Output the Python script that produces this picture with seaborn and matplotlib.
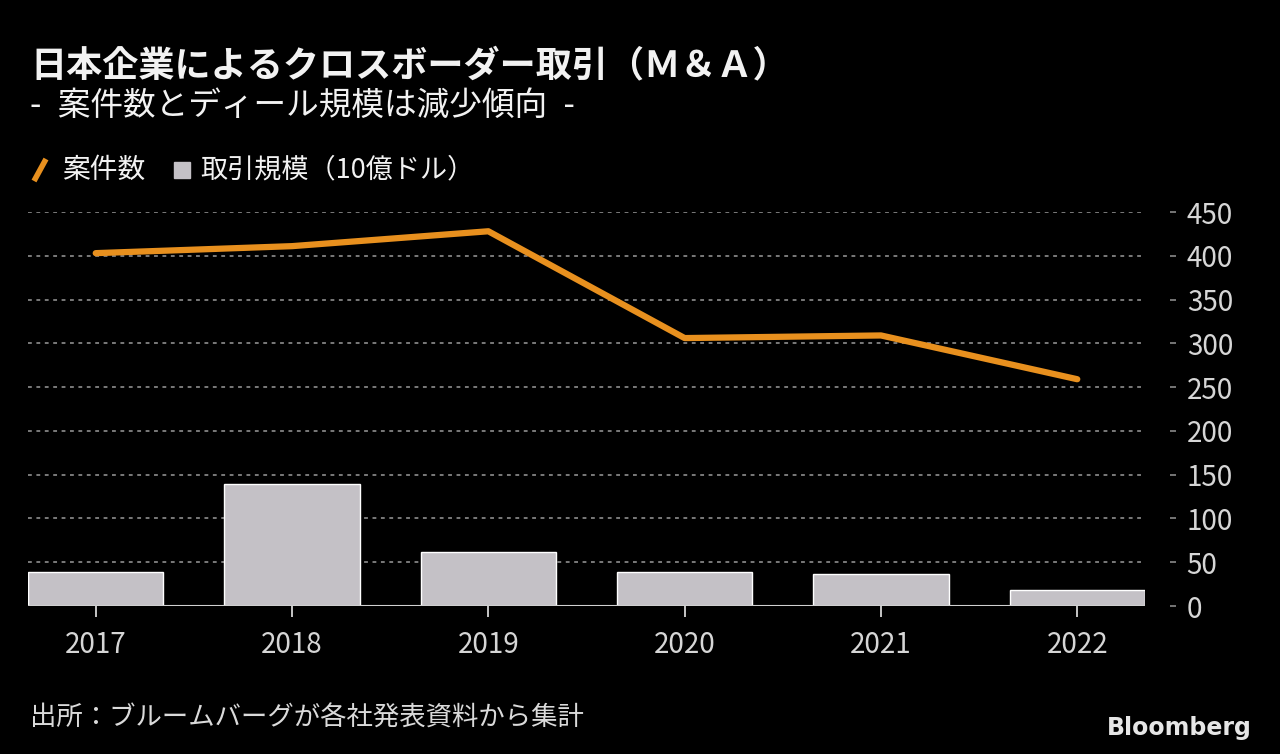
import numpy as np
import pandas as pd
import matplotlib
matplotlib.use("Agg")
import matplotlib.pyplot as plt
from matplotlib.lines import Line2D
from matplotlib.patches import Rectangle
import seaborn as sns

# ---- data ----
years = ["2017", "2018", "2019", "2020", "2021", "2022"]
deal_count = [403, 411, 428, 306, 309, 259]   # 案件数
deal_value = [39, 139, 62, 39, 37, 18]        # 取引規模（10億ドル）
y_ticks = [0, 50, 100, 150, 200, 250, 300, 350, 400, 450]

title = "日本企業によるクロスボーダー取引（Ｍ＆Ａ）"
subtitle = "-\u2002案件数とディール規模は減少傾向\u2002-"
legend_line = "案件数"
legend_bar = "取引規模（10億ドル）"
source = "出所：ブルームバーグが各社発表資料から集計"

# ---- style ----
bg = "#000000"
orange = "#E8901E"
bar_grey = "#C4C1C6"
text_col = "#F2F2F2"
tick_col = "#D6D6D6"

sns.set_theme(style="dark")
plt.rcParams["font.family"] = ["Noto Sans CJK JP", "DejaVu Sans"]

df = pd.DataFrame({"year": years, "pos": np.arange(len(years)),
                   "count": deal_count, "value": deal_value})

fig = plt.figure(figsize=(12.8, 7.54), dpi=100, facecolor=bg)
ax = fig.add_axes([28 / 1280, 1 - 606 / 754, (1145 - 28) / 1280, (606 - 212) / 754])
ax.set_facecolor(bg)

sns.barplot(data=df, x="pos", y="value", color=bar_grey, width=0.69,
            saturation=1, ax=ax, zorder=2, native_scale=True)
sns.lineplot(data=df, x="pos", y="count", color=orange, linewidth=4.5,
             ax=ax, zorder=3, clip_on=False, solid_capstyle="round")

ax.set_xlim(-0.345, len(years) - 1 + 0.345)
ax.set_ylim(0, 450)
ax.set_xlabel("")
ax.set_ylabel("")

# gridlines
for v in y_ticks[1:]:
    ax.axhline(v, color="#9A9A9A", linewidth=1.1, linestyle=(0, (2.5, 3)), zorder=1)
ax.axhline(0, color="#D0D0D0", linewidth=1.5, zorder=4)
ax.grid(False)

for s in ax.spines.values():
    s.set_visible(False)
# detached tick dashes on the right, like the original
ax.spines["right"].set_position(("outward", 18))

ax.set_xticks(df["pos"])
ax.set_xticklabels(years)
ax.yaxis.tick_right()
ax.set_yticks(y_ticks)
ax.set_yticklabels([str(v) for v in y_ticks])
ax.tick_params(axis="x", colors=tick_col, labelsize=20, length=8, width=1.3,
               direction="out", pad=9, bottom=True)
ax.tick_params(axis="y", colors="#8A8A8A", labelcolor=tick_col, labelsize=20,
               length=4, width=1.2, pad=8, right=True)

# ---- texts ----
fig.text(30 / 1280, 1 - 66 / 754, title, color=text_col, fontsize=26,
         fontweight="bold", va="center", ha="left")
fig.text(30 / 1280, 1 - 106 / 754, subtitle, color=text_col, fontsize=23.5,
         va="center", ha="left")

# legend
fig.add_artist(Line2D([34 / 1280, 46 / 1280], [1 - 181 / 754, 1 - 159 / 754],
                      color=orange, linewidth=4, transform=fig.transFigure,
                      solid_capstyle="butt"))
fig.text(62 / 1280, 1 - 170 / 754, legend_line, color=text_col, fontsize=20,
         va="center", ha="left")
fig.add_artist(Rectangle((174 / 1280, 1 - 178 / 754), 16 / 1280, 16 / 754,
                         color=bar_grey, transform=fig.transFigure))
fig.text(200 / 1280, 1 - 170 / 754, legend_bar, color=text_col, fontsize=19.5,
         va="center", ha="left")

fig.text(30 / 1280, 1 - 718 / 754, source, color="#DADADA", fontsize=19,
         va="center", ha="left")
fig.text(1252 / 1280, 1 - 728 / 754, "Bloomberg", color="#E6E6E6", fontsize=17,
         fontweight="bold", va="center", ha="right",
         family=["Liberation Sans Narrow", "DejaVu Sans"])

fig.savefig("out.png", dpi=100, facecolor=bg)
